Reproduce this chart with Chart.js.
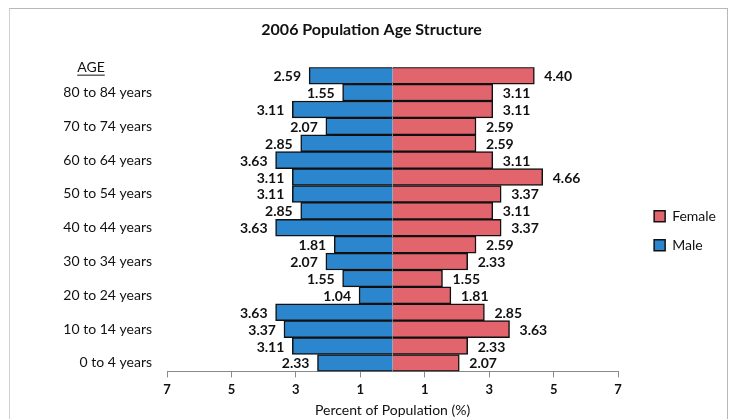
<!DOCTYPE html>
<html>
<head>
<meta charset="utf-8">
<script src="https://cdn.jsdelivr.net/npm/chart.js@4"></script>
<style>
  body { margin: 0; background: #fff; }
  #wrap { position: relative; width: 732px; height: 419px; }
  #frame { position: absolute; left: 9px; top: 8px; width: 717px; height: 420px;
           border-top: 1px solid #b8b8b8; border-right: 1px solid #b8b8b8; border-left: 1px solid #d0d0d0; }
</style>
</head>
<body>
<div id="wrap">
  <div id="frame"></div>
  <canvas id="pyramid"></canvas>
</div>
<script>
// age groups, oldest at the top
const ageGroups = ['85 years and over', '80 to 84 years', '75 to 79 years', '70 to 74 years',
  '65 to 69 years', '60 to 64 years', '55 to 59 years', '50 to 54 years', '45 to 49 years',
  '40 to 44 years', '35 to 39 years', '30 to 34 years', '25 to 29 years', '20 to 24 years',
  '15 to 19 years', '10 to 14 years', '5 to 9 years', '0 to 4 years'];
const malePct = [2.59, 1.55, 3.11, 2.07, 2.85, 3.63, 3.11, 3.11, 2.85, 3.63, 1.81, 2.07, 1.55, 1.04, 3.63, 3.37, 3.11, 2.33];
const femalePct = [4.40, 3.11, 3.11, 2.59, 2.59, 3.11, 4.66, 3.37, 3.11, 3.37, 2.59, 2.33, 1.55, 1.81, 2.85, 3.63, 2.33, 2.07];
const xTicks = [-7, -5, -3, -1, 1, 3, 5, 7];

const FONT = 'Lato, "Open Sans", sans-serif';
Chart.defaults.font.family = FONT;
Chart.defaults.color = '#111';

// value labels at the outer end of each bar
const barLabels = {
  id: 'barLabels',
  afterDatasetsDraw(chart) {
    const ctx = chart.ctx;
    ctx.save();
    ctx.font = 'bold 14px ' + FONT;
    ctx.fillStyle = '#111';
    ctx.textBaseline = 'middle';
    chart.data.datasets.forEach((ds, i) => {
      chart.getDatasetMeta(i).data.forEach((bar, j) => {
        const v = ds.data[j];
        const txt = Math.abs(v).toFixed(2);
        if (v < 0) {
          ctx.textAlign = 'right';
          ctx.fillText(txt, bar.x - 8, bar.y + 1);
        } else {
          ctx.textAlign = 'left';
          ctx.fillText(txt, bar.x + 10, bar.y + 1);
        }
      });
    });
    ctx.restore();
  }
};

// "AGE" header above the category labels
const ageHeader = {
  id: 'ageHeader',
  afterDraw(chart) {
    const ctx = chart.ctx;
    const y = chart.scales.y.getPixelForValue(0) - 8;
    ctx.save();
    ctx.font = '14px ' + FONT;
    ctx.fillStyle = '#111';
    ctx.textAlign = 'center';
    ctx.textBaseline = 'middle';
    ctx.fillText('AGE', 91, y);
    const w = ctx.measureText('AGE').width;
    ctx.fillRect(91 - w / 2, y + 7, w, 1);
    ctx.restore();
  }
};

// nudge title and legend to the right, as in the original layout
const shiftBoxes = {
  id: 'shiftBoxes',
  afterLayout(chart) {
    chart.legend.left += 21;
    chart.legend.right += 21;
    chart.titleBlock.left += 19;
    chart.titleBlock.right += 19;
  }
};

new Chart(document.getElementById('pyramid'), {
  type: 'bar',
  data: {
    labels: ageGroups,
    datasets: [{
      label: 'Male',
      data: malePct.map(v => -v),
      backgroundColor: '#2C86CE',
      borderColor: '#111',
      borderWidth: 1.5
    }, {
      label: 'Female',
      data: femalePct,
      backgroundColor: '#E2656D',
      borderColor: '#111',
      borderWidth: 1.5
    }]
  },
  options: {
    indexAxis: 'y',
    responsive: true,
    maintainAspectRatio: false,
    animation: false,
    barPercentage: 1,
    categoryPercentage: 1,
    layout: {
      padding: { top: 20, bottom: 0, left: 0, right: 27 }
    },
    scales: {
      x: {
        stacked: true,
        min: -7,
        max: 7,
        ticks: {
          stepSize: 2,
          padding: 5,
          font: { size: 13, weight: 'bold' },
          callback: v => Math.abs(v)
        },
        afterBuildTicks: scale => { scale.ticks = xTicks.map(v => ({ value: v })); },
        grid: { drawOnChartArea: false, tickLength: 6, color: '#8a8a8a' },
        border: { color: '#8a8a8a' },
        title: {
          display: true,
          text: 'Percent of Population (%)',
          font: { size: 14, lineHeight: 1 },
          padding: { top: 0, bottom: 2 }
        }
      },
      y: {
        stacked: true,
        grid: { display: false },
        border: { display: false },
        afterFit: scale => { scale.width = 167; },
        ticks: {
          padding: 7,
          font: { size: 14 },
          autoSkip: false,
          callback: function (v, i) { return i % 2 === 1 ? this.getLabelForValue(v) : ''; }
        }
      }
    },
    plugins: {
      title: {
        display: true,
        text: '2006 Population Age Structure',
        font: { size: 16, weight: 'bold' },
        padding: { top: 0, bottom: 28 }
      },
      legend: {
        position: 'right',
        reverse: true,
        title: { display: true, text: '', padding: 4 },
        labels: {
          boxWidth: 11,
          boxHeight: 11,
          padding: 15,
          font: { size: 14 }
        }
      },
      tooltip: { enabled: false }
    }
  },
  plugins: [barLabels, ageHeader, shiftBoxes]
});
</script>
</body>
</html>
